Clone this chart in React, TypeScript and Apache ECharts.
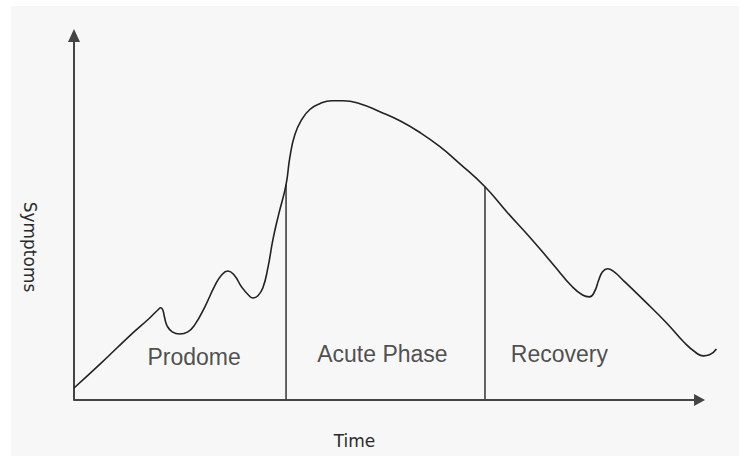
import React, { useEffect, useRef } from "react";
import * as echarts from "echarts";

// Symptom curve (time, symptoms), both on a 0–100 scale (curve runs a little past the axis end)
const curveTime = [
  0, 4.2, 8.9, 12.1, 13.4, 13.9, 14.2, 14.5, 14.9, 15.7, 16.9, 18.2, 19.3, 20.9, 22.5, 23.6, 24.6,
  25.6, 26.8, 28.0, 28.6, 29.4, 30.2, 31.0, 31.8, 32.7, 33.9, 34.5, 35.3, 36.4, 37.7, 39.3, 41.2,
  43.0, 45.7, 48.9, 52.1, 55.3, 58.5, 61.7, 65.7, 69.2, 72.8, 76.5, 79.7, 81.3, 82.4, 83.2, 83.9,
  84.5, 85.3, 86.3, 87.7, 91.2, 94.7, 97.6, 99.5, 100.6, 101.6, 102.7,
];
const curveSymptoms = [
  3.3, 9.9, 17.6, 22.5, 24.7, 25.3, 24.7, 22.5, 20.3, 18.7, 18.1, 18.7, 20.6, 25.5, 31.3, 34.3, 35.4,
  34.3, 31.0, 28.6, 28.0, 28.6, 30.8, 36.3, 44.0, 50.8, 59.1, 66.5, 72.8, 76.9, 79.7, 81.3, 82.1,
  82.1, 81.3, 79.1, 76.6, 73.4, 69.5, 64.8, 58.5, 51.6, 44.8, 37.4, 31.0, 28.8, 28.3, 29.7, 33.0,
  35.2, 36.0, 35.2, 33.0, 27.2, 21.2, 15.7, 12.9, 12.1, 12.4, 14.0,
];

// Time axis: arrow ends at timeAxisEnd, scale extends to timeScaleMax so the curve tail fits
const timeAxisEnd = 100;
const timeScaleMax = 103;

// Phase boundaries (time) and the curve height where they end
const boundaryTime = [33.9, 65.7];
const boundaryHeight = [59.1, 58.5];

// Phase labels and their anchor positions (data coordinates)
const phaseNames = ["Prodome", "Acute Phase", "Recovery"];
const phaseLabelTime = [19.2, 49.3, 77.6];
const phaseLabelSymptoms = [11.8, 12.6, 12.6];

const xTitle = "Time";
const yTitle = "Symptoms";

export default function App() {
  const ref = useRef<HTMLDivElement>(null);

  useEffect(() => {
    if (!ref.current) return;
    const chart = echarts.init(ref.current, undefined, { renderer: "svg" });

    const boundarySeries = boundaryTime.map((t, i) => ({
      type: "line",
      data: [
        [t, 0],
        [t, boundaryHeight[i]],
      ],
      symbol: "none",
      lineStyle: { color: "#333", width: 1.5 },
      z: 3,
      silent: true,
    }));

    chart.setOption({
      animation: false,
      backgroundColor: "#ffffff",
      grid: { left: 74, right: 26.7, top: 35.5, bottom: 56, containLabel: false },
      xAxis: {
        type: "value",
        min: 0,
        max: timeScaleMax,
        axisLine: { show: false },
        axisTick: { show: false },
        axisLabel: { show: false },
        splitLine: { show: false },
      },
      yAxis: {
        type: "value",
        min: 0,
        max: 100,
        axisLine: {
          show: true,
          symbol: ["none", "triangle"],
          symbolSize: [12, 13],
          lineStyle: { color: "#444", width: 2 },
        },
        axisTick: { show: false },
        axisLabel: { show: false },
        splitLine: { show: false },
      },
      graphic: [
        {
          type: "rect",
          z: -100,
          shape: { x: 11, y: 6, width: 728, height: 450 },
          style: { fill: "#f7f7f7" },
          silent: true,
        },
        {
          type: "text",
          x: 354.5,
          y: 441,
          style: {
            text: xTitle,
            font: "17px 'DejaVu Sans'",
            fill: "#2a2a2a",
            align: "center",
            verticalAlign: "middle",
          },
        },
        {
          type: "text",
          x: 30,
          y: 247,
          rotation: -Math.PI / 2,
          style: {
            text: yTitle,
            font: "17px 'DejaVu Sans'",
            fill: "#2a2a2a",
            align: "center",
            verticalAlign: "middle",
          },
        },
      ],
      series: [
        {
          type: "line",
          data: curveTime.map((t, i) => [t, curveSymptoms[i]]),
          smooth: 0.5,
          symbol: "none",
          clip: false,
          lineStyle: { color: "#222", width: 1.6 },
          z: 4,
          silent: true,
          markLine: {
            silent: true,
            symbol: ["none", "triangle"],
            symbolSize: [12, 11],
            label: { show: false },
            lineStyle: { color: "#444", width: 2, type: "solid" },
            emphasis: { disabled: true },
            data: [[{ coord: [0, 0] }, { coord: [timeAxisEnd, 0] }]],
          },
        },
        ...boundarySeries,
        {
          type: "scatter",
          data: phaseNames.map((n, i) => ({ name: n, value: [phaseLabelTime[i], phaseLabelSymptoms[i]] })),
          symbolSize: 1,
          itemStyle: { color: "rgba(0,0,0,0)" },
          label: {
            show: true,
            position: "inside",
            formatter: "{b}",
            fontFamily: "'Liberation Sans', Arial, sans-serif",
            fontSize: 23,
            color: "#222",
          },
          silent: true,
          z: 5,
        },
      ],
    });

    return () => chart.dispose();
  }, []);

  return (
    <div
      ref={ref}
      style={{ position: "absolute", left: 0, top: 0, width: 745, height: 456 }}
    />
  );
}
